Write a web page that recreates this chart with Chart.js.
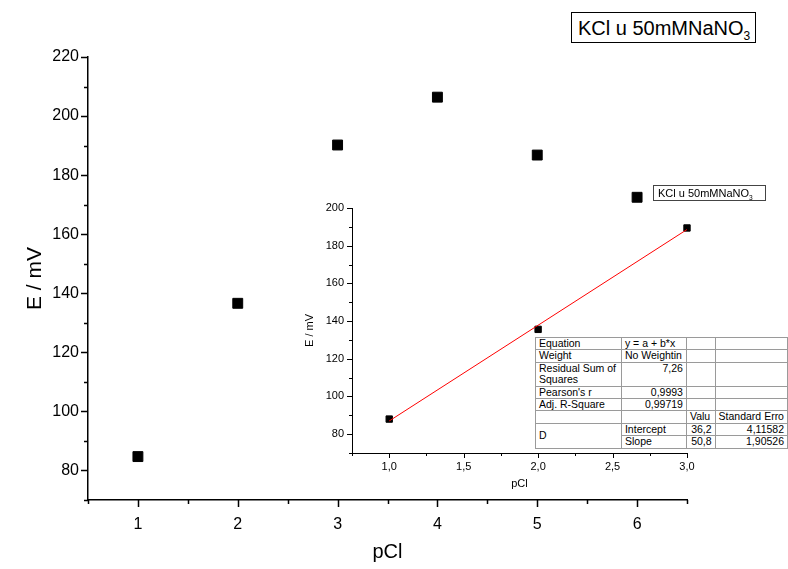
<!DOCTYPE html>
<html>
<head>
<meta charset="utf-8">
<script src="https://cdn.jsdelivr.net/npm/chart.js@4.4.1/dist/chart.umd.min.js"></script>
<style>
  body { margin: 0; background: #fff; font-family: "Liberation Sans", Arial, sans-serif; }
  #wrap { position: relative; width: 788px; height: 569px; overflow: hidden; }
  canvas { position: absolute; }
  .legend { position: absolute; border: 1px solid #000; background: #fff; color: #000; white-space: nowrap; }
  .legend sub { font-size: 60%; }
  #fitTable { position: absolute; left: 535px; top: 337px; border-collapse: collapse; background: #fff;
    font-size: 10.5px; border: 1px solid #000; table-layout: fixed; }
  #fitTable td { border: 1px solid #9a9a9a; padding: 0 3px; height: 11.4px; line-height: 11.4px; vertical-align: top; overflow: hidden; white-space: nowrap; }
  #fitTable td.num { text-align: right; }
</style>
</head>
<body>
<div id="wrap">
  <canvas id="mainChart" width="788" height="569" style="left:0;top:0"></canvas>
  <canvas id="insetChart" width="498" height="320" style="left:290px;top:180px"></canvas>
  <div class="legend" style="left:571px;top:12px;width:185px;height:31px;font-size:20px;line-height:30px;padding-left:6px;box-sizing:border-box">KCl u 50mMNaNO<sub>3</sub></div>
  <div class="legend" style="left:653px;top:185px;width:113px;height:16px;font-size:11px;line-height:15px;padding-left:4px;box-sizing:border-box;border-color:#444">KCl u 50mMNaNO<sub>3</sub></div>
  <table id="fitTable"></table>
</div>
<script>
// podaci - glavni graf
const pCl = [1, 2, 3, 4, 5, 6];
const E = [84.7, 136.6, 190.2, 206.4, 186.8, 172.5];

// podaci - umetak (linearni fit)
const fitPCl = [1, 2, 3];
const fitE = [88, 135.6, 189.4];
const lineX = [1, 3];
const lineY = [87, 188.6];

// tablica rezultata fita
const tableRows = [
  ['Equation', 'y = a + b*x', '', ''],
  ['Weight', 'No Weightin', '', ''],
  ['Residual Sum of<br>Squares', '7,26', '', ''],
  ["Pearson's r", '0,9993', '', ''],
  ['Adj. R-Square', '0,99719', '', ''],
  ['', '', 'Valu', 'Standard Erro'],
  ['D', 'Intercept', '36,2', '4,11582'],
  ['', 'Slope', '50,8', '1,90526']
];
const colWidths = [88, 66, 30, 69];

const FONT = '"Liberation Sans", Arial, sans-serif';

// --- tablica ---
const tbl = document.getElementById('fitTable');
let html = '<colgroup>' + colWidths.map(w => `<col style="width:${w}px">`).join('') + '</colgroup>';
tableRows.forEach((r, i) => {
  html += '<tr>';
  if (i === 6) {
    html += `<td rowspan="2" style="vertical-align:middle">${r[0]}</td>`;
  } else if (i !== 7) {
    html += `<td>${r[0]}</td>`;
  }
  const numCol1 = i >= 2 && i <= 4;
  html += `<td class="${numCol1 ? 'num' : ''}">${r[1]}</td>`;
  html += `<td class="${i >= 6 ? 'num' : ''}">${r[2]}</td>`;
  html += `<td class="${i >= 6 ? 'num' : ''}">${r[3]}</td>`;
  html += '</tr>';
});
tbl.innerHTML = html;

// --- crtice na osima (velike i male) ---
const tickMarks = {
  id: 'tickMarks',
  afterDraw(chart, args, o) {
    const ctx = chart.ctx;
    ctx.save();
    ctx.strokeStyle = '#000';
    ctx.lineWidth = o.width;
    ctx.beginPath();
    const xs = chart.scales.x, ys = chart.scales.y;
    const nx = Math.round((xs.max - xs.min) / o.xMinor);
    for (let i = 0; i <= nx; i++) {
      const v = xs.min + i * o.xMinor;
      const major = Math.abs(v / o.xMajor - Math.round(v / o.xMajor)) < 1e-6;
      const px = Math.round(xs.getPixelForValue(v)) + 0.5;
      ctx.moveTo(px, xs.top);
      ctx.lineTo(px, xs.top + (major ? o.major : o.minor));
    }
    const ny = Math.round((ys.max - ys.min) / o.yMinor);
    for (let i = 0; i <= ny; i++) {
      const v = ys.min + i * o.yMinor;
      const major = Math.abs(v / o.yMajor - Math.round(v / o.yMajor)) < 1e-6;
      const py = Math.round(ys.getPixelForValue(v)) + 0.5;
      ctx.moveTo(ys.right, py);
      ctx.lineTo(ys.right - (major ? o.major : o.minor), py);
    }
    ctx.stroke();
    ctx.restore();
  }
};

Chart.defaults.font.family = FONT;
Chart.defaults.color = '#000';

// --- glavni graf ---
new Chart(document.getElementById('mainChart'), {
  type: 'scatter',
  data: {
    datasets: [{
      data: pCl.map((x, i) => ({ x: x, y: E[i] })),
      pointStyle: 'rect',
      pointRadius: 7,
      pointBackgroundColor: '#000',
      pointBorderColor: '#000',
      pointBorderWidth: 1,
      clip: false
    }]
  },
  options: {
    responsive: false,
    animation: false,
    layout: { padding: { top: 57, right: 101, left: 0, bottom: 0 } },
    plugins: {
      legend: { display: false },
      tooltip: { enabled: false },
      tickMarks: { width: 1.5, major: 7, minor: 4, xMinor: 0.5, xMajor: 1, yMinor: 10, yMajor: 20 }
    },
    scales: {
      x: {
        type: 'linear', min: 0.5, max: 6.5,
        afterFit: s => { s.height = 69; },
        grid: { display: false, drawTicks: false },
        border: { display: true, color: '#000', width: 1.5 },
        ticks: {
          stepSize: 0.5, padding: 15, autoSkip: false, maxRotation: 0,
          font: { size: 16 },
          callback: v => Number.isInteger(v) ? String(v) : ''
        },
        title: { display: true, text: 'pCl', font: { size: 20 }, padding: { top: 0, bottom: 5 } }
      },
      y: {
        min: 70, max: 220,
        afterFit: s => { s.width = 88; },
        grid: { display: false, drawTicks: false },
        border: { display: true, color: '#000', width: 1.5 },
        ticks: {
          stepSize: 10, padding: 9, autoSkip: false,
          font: { size: 16 },
          callback: v => v % 20 === 0 ? String(v) : ''
        },
        title: { display: true, text: 'E / mV', font: { size: 21 }, padding: { top: 23, bottom: 0 } }
      }
    }
  },
  plugins: [tickMarks]
});

// --- umetnuti graf ---
new Chart(document.getElementById('insetChart'), {
  type: 'scatter',
  data: {
    datasets: [{
      type: 'line',
      data: lineX.map((x, i) => ({ x: x, y: lineY[i] })),
      borderColor: '#ff0000',
      borderWidth: 1,
      pointRadius: 0,
      fill: false,
      clip: false
    }, {
      data: fitPCl.map((x, i) => ({ x: x, y: fitE[i] })),
      pointStyle: 'rect',
      pointRadius: 4.5,
      pointBackgroundColor: '#000',
      pointBorderColor: '#000',
      pointBorderWidth: 1,
      clip: false
    }]
  },
  options: {
    responsive: false,
    animation: false,
    layout: { padding: { top: 28, right: 101, left: 0, bottom: 0 } },
    plugins: {
      legend: { display: false },
      tooltip: { enabled: false },
      tickMarks: { width: 1, major: 5, minor: 3, xMinor: 0.25, xMajor: 0.5, yMinor: 10, yMajor: 20 }
    },
    scales: {
      x: {
        type: 'linear', min: 0.75, max: 3.0,
        afterFit: s => { s.height = 47; },
        grid: { display: false, drawTicks: false },
        border: { display: true, color: '#000', width: 1 },
        ticks: {
          stepSize: 0.25, padding: 7, autoSkip: false, maxRotation: 0,
          font: { size: 11 },
          callback: v => Math.abs(v * 2 - Math.round(v * 2)) < 1e-6 ? v.toFixed(1).replace('.', ',') : ''
        },
        title: { display: true, text: 'pCl', font: { size: 11 }, padding: { top: 0, bottom: 9 } }
      },
      y: {
        min: 70, max: 200,
        afterFit: s => { s.width = 62; },
        grid: { display: false, drawTicks: false },
        border: { display: true, color: '#000', width: 1 },
        ticks: {
          stepSize: 10, padding: 8, autoSkip: false,
          font: { size: 11 },
          callback: v => v % 20 === 0 ? String(v) : ''
        },
        title: { display: true, text: 'E / mV', font: { size: 11 }, padding: { top: 13, bottom: 0 } }
      }
    }
  },
  plugins: [tickMarks]
});
</script>
</body>
</html>
